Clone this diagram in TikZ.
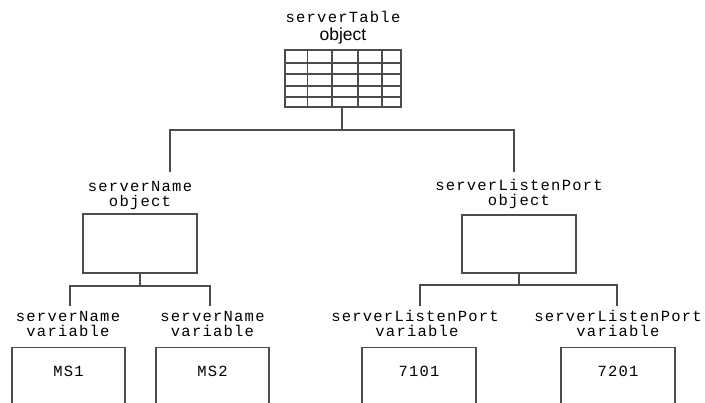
\documentclass[tikz,border=0pt]{standalone}
\usepackage{fontspec}
\newfontfamily\courfont{Liberation Mono}[LetterSpace=8]
\newfontfamily\arialfont{Liberation Sans}
\begin{document}
\begin{tikzpicture}[x=1pt,y=-1pt,
  line/.style={draw=black!70, line width=1.4pt},
  box/.style={draw=black!70, line width=1.4pt, rectangle, inner sep=0pt, fill=white},
  lbl/.style={inner sep=0pt, anchor=base, font=\courfont\fontsize{15.5}{15.5}\selectfont},
  slbl/.style={inner sep=0pt, anchor=base, font=\arialfont\fontsize{17.5}{17.5}\selectfont}]
\useasboundingbox (0,0) rectangle (705,403);
\fill[white] (0,0) rectangle (705,403);
\clip (0,0) rectangle (705,403);

% top table
\node[lbl] (tlA) at (343,23) {serverTable};
\node[slbl] (tlB) at (343,40.5) {object};
\node[box, minimum width=115.7pt, minimum height=57pt] (tbl) at (343,78.5) {};
\foreach \xx in {307.7,332,358,382} \draw[line] (\xx,50) -- (\xx,107);
\foreach \yy in {63,74,86,97} \draw[line] (285.2,\yy) -- (400.2,\yy);

% middle labels and boxes
\node[lbl] (snA) at (140,192) {serverName};
\node[lbl] (snB) at (140,207) {object};
\node[box, minimum width=114pt, minimum height=59pt] (sn) at (140,243.5) {};

\node[lbl] (spA) at (519,191) {serverListenPort};
\node[lbl] (spB) at (519,206) {object};
\node[box, minimum width=114pt, minimum height=58pt] (sp) at (519,244) {};

% bottom labels and boxes
\node[lbl] (v1A) at (68,322) {serverName};
\node[lbl] (v1B) at (68,337) {variable};
\node[box, minimum width=113pt, minimum height=80pt, anchor=north] (b1) at (68.5,347) {};
\node[lbl] (t1) at (68.5,377) {MS1};

\node[lbl] (v2A) at (212.5,322) {serverName};
\node[lbl] (v2B) at (212.5,337) {variable};
\node[box, minimum width=113pt, minimum height=80pt, anchor=north] (b2) at (212.5,347) {};
\node[lbl] (t2) at (212.5,377) {MS2};

\node[lbl] (v3A) at (415,322) {serverListenPort};
\node[lbl] (v3B) at (417,337) {variable};
\node[box, minimum width=114pt, minimum height=80pt, anchor=north] (b3) at (419,347) {};
\node[lbl] (t3) at (419,377) {7101};

\node[lbl] (v4A) at (618,322) {serverListenPort};
\node[lbl] (v4B) at (618,337) {variable};
\node[box, minimum width=114pt, minimum height=80pt, anchor=north] (b4) at (618,347) {};
\node[lbl] (t4) at (618,377) {7201};

% connectors
\coordinate (j0) at (342,130);
\coordinate (e1) at (170,172);
\coordinate (e2) at (514,172);
\draw[line] (tbl.south -| j0) -- (j0);
\draw[line] (e1) |- (j0) -| (e2);

\coordinate (j1) at (140,286);
\coordinate (e3) at (70,306);
\coordinate (e4) at (210,306);
\draw[line] (sn.south) -- (j1);
\draw[line] (e3) |- (j1) -| (e4);

\coordinate (j2) at (519,285);
\coordinate (e5) at (420,306);
\coordinate (e6) at (617,306);
\draw[line] (sp.south) -- (j2);
\draw[line] (e5) |- (j2) -| (e6);
\end{tikzpicture}
\end{document}
